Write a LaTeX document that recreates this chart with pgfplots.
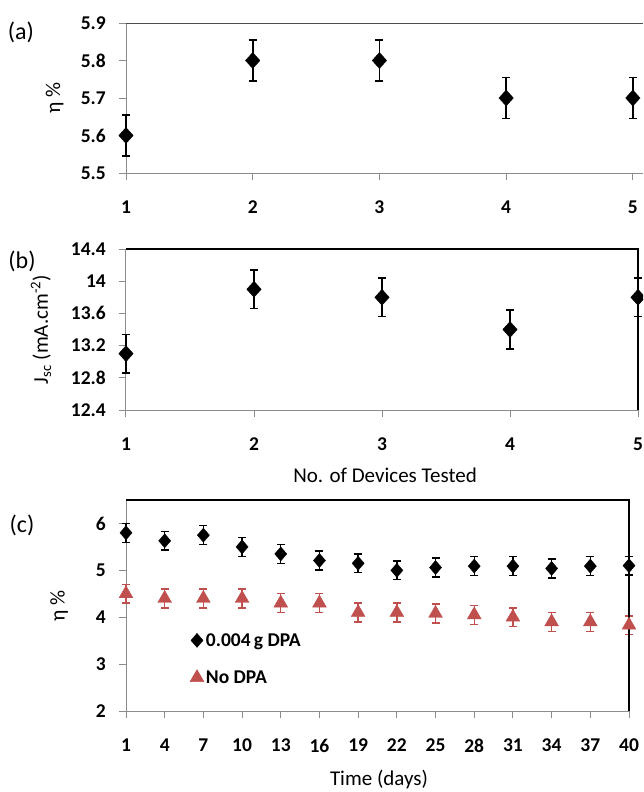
\documentclass[border=0pt]{standalone}
\usepackage{pgfplots}
\pgfplotsset{compat=1.18}
\usepackage{fontspec}
\setmainfont{Carlito}
\definecolor{exred}{RGB}{192,80,77}
\definecolor{axgray}{RGB}{140,140,140}

\pgfplotsset{
  myax/.style={
    scale only axis, clip=false,
    axis lines*=left,
    axis line style={draw=axgray, line width=1pt},
    tick style={draw=axgray, line width=1pt},
    tick align=outside,
    major tick length=7pt,
    /pgf/number format/assume math mode=true,
    tick label style={font=\fontsize{19.5}{22}\selectfont\bfseries},
    yticklabel style={anchor=east, inner sep=0pt, xshift=-13pt},
    xticklabel style={anchor=north, inner sep=0pt, yshift=-21pt},
    error bars/y dir=both, error bars/y explicit,
    error bars/error bar style={line width=1.6pt},
    error bars/error mark options={rotate=90, mark size=4pt, line width=1.6pt},
  },
}

\begin{document}
\begin{tikzpicture}
\path[use as bounding box] (0pt,0pt) rectangle (643pt,-792pt);
\clip (0pt,0pt) rectangle (643pt,-792pt);

% ---------------- (a)
\begin{axis}[myax,
  at={(126pt,-173pt)}, anchor=south west,
  width=517pt, height=150pt,
  xmin=1, xmax=5.08, ymin=5.5, ymax=5.9,
  xtick={1,2,3,4,5}, ytick={5.5,5.6,5.7,5.8,5.9},
  yticklabel style={/pgf/number format/fixed, /pgf/number format/precision=1, /pgf/number format/fixed zerofill},
  ylabel={η \%},
  every axis y label/.style={at={(axis description cs:-0.138,0.5)}, rotate=90, anchor=center, font=\fontsize{21}{24}\selectfont},
]
\addplot[only marks, mark=diamond*, mark size=8pt, mark options={xscale=1.2, fill=black, draw=black}, black]
  coordinates {(1,5.6) +- (0,0.055) (2,5.8) +- (0,0.055) (3,5.8) +- (0,0.055) (4,5.7) +- (0,0.055) (5,5.7) +- (0,0.055)};
\draw[draw=black!70, line width=1pt] (rel axis cs:0,1) -- (rel axis cs:1,1);
\end{axis}

% ---------------- (b)
\begin{axis}[myax,
  at={(126pt,-410pt)}, anchor=south west,
  width=512pt, height=161pt,
  xmin=1, xmax=5, ymin=12.4, ymax=14.4,
  xtick={1,2,3,4,5}, ytick={12.4,12.8,13.2,13.6,14,14.4},
  ylabel={J\textsubscript{sc} (mA.cm\textsuperscript{-2})},
  every axis y label/.style={at={(axis description cs:-0.166,0.5)}, rotate=90, anchor=center, font=\fontsize{21}{24}\selectfont},
  xlabel={No. of Devices Tested},
  every axis x label/.style={at={(axis description cs:0.506,-0.404)}, anchor=center, font=\fontsize{21}{24}\selectfont},
]
\addplot[only marks, mark=diamond*, mark size=8pt, mark options={xscale=1.2, fill=black, draw=black}, black]
  coordinates {(1,13.1) +- (0,0.24) (2,13.9) +- (0,0.24) (3,13.8) +- (0,0.24) (4,13.4) +- (0,0.24) (5,13.8) +- (0,0.24)};
\draw[black, line width=1.3pt] (rel axis cs:0,1) -- (rel axis cs:1,1) -- (rel axis cs:1,0);
\end{axis}

% ---------------- (c)
\begin{axis}[myax,
  at={(126pt,-711pt)}, anchor=south west,
  width=503pt, height=211pt,
  xmin=1, xmax=40, ymin=2, ymax=6.5,
  xtick={1,4,...,40}, ytick={2,3,4,5,6},
  ylabel={η \%},
  every axis y label/.style={at={(axis description cs:-0.133,0.5)}, rotate=90, anchor=center, font=\fontsize{21}{24}\selectfont},
  xlabel={Time (days)},
  every axis x label/.style={at={(axis description cs:0.503,-0.325)}, anchor=center, font=\fontsize{21}{24}\selectfont},
  error bars/error bar style={line width=1.4pt},
  error bars/error mark options={rotate=90, mark size=4pt, line width=1.4pt},
  legend style={draw=none, fill=none, at={(0.127,0.379)}, anchor=north west,
    font=\fontsize{19.5}{22}\selectfont\bfseries, row sep=19pt, inner sep=0pt},
  legend cell align=left,
  legend image code/.code={\draw[#1] plot[only marks] coordinates {(0pt,0pt)};},
]
\addplot[only marks, mark=diamond*, mark size=7pt, mark options={xscale=1.15, fill=black, draw=black}, black]
  coordinates {(1,5.80) +- (0,0.2) (4,5.63) +- (0,0.2) (7,5.75) +- (0,0.2) (10,5.50) +- (0,0.2)
    (13,5.35) +- (0,0.2) (16,5.21) +- (0,0.2) (19,5.15) +- (0,0.2) (22,5.00) +- (0,0.2)
    (25,5.06) +- (0,0.2) (28,5.09) +- (0,0.2) (31,5.09) +- (0,0.2) (34,5.04) +- (0,0.2)
    (37,5.09) +- (0,0.2) (40,5.10) +- (0,0.2)};
\addlegendentry{0.004\,g DPA}
\addplot[only marks, mark=triangle*, mark size=8pt, mark options={fill=exred, draw=exred}, exred]
  coordinates {(1,4.5) +- (0,0.2) (4,4.4) +- (0,0.2) (7,4.4) +- (0,0.2) (10,4.4) +- (0,0.2)
    (13,4.3) +- (0,0.2) (16,4.3) +- (0,0.2) (19,4.1) +- (0,0.2) (22,4.1) +- (0,0.2)
    (25,4.08) +- (0,0.2) (28,4.05) +- (0,0.2) (31,4.0) +- (0,0.2) (34,3.9) +- (0,0.2)
    (37,3.9) +- (0,0.2) (40,3.83) +- (0,0.2)};
\addlegendentry{No DPA}
\draw[black, line width=1.3pt] (rel axis cs:0,1) -- (rel axis cs:1,1) -- (rel axis cs:1,0);
\end{axis}

\node[font=\fontsize{24}{28}\selectfont] at (21pt,-32pt) {(a)};
\node[font=\fontsize{24}{28}\selectfont] at (22pt,-261pt) {(b)};
\node[font=\fontsize{24}{28}\selectfont] at (22pt,-525pt) {(c)};
\end{tikzpicture}
\end{document}
